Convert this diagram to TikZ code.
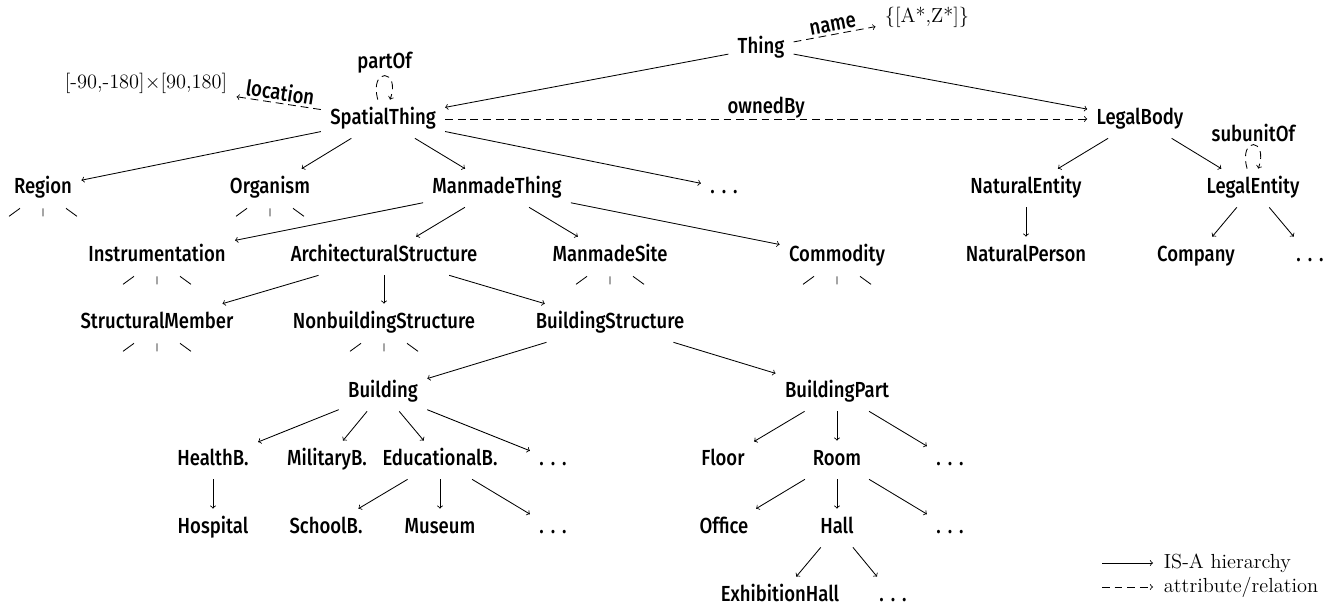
\documentclass[tikz,border=0pt]{standalone}
\usepackage{fontspec}
\newfontfamily\classfont{Fira Sans Medium}[FakeStretch=0.85]
\usepackage{tikz}

% spaced dots for subclasses that are left out
\newcommand{\moredots}{.\kern0.32em.\kern0.32em.}
% three cut-off branches below a class whose subclasses are left out
\newcommand{\leafstubs}[1]{%
  \draw (#1.south) ++(-23,1) -- ++(-11,8)
        (#1.south) ++(0,1) -- ++(0,8)
        (#1.south) ++(23,1) -- ++(11,8);}

\begin{document}
\begin{tikzpicture}[x=0.025cm,y=-0.025cm,semithick,
      cls/.style={font=\classfont\fontsize{15.5}{18}\selectfont,inner xsep=6.4pt,inner ysep=6.7pt,text height=10.5pt,text depth=3pt},
      val/.style={font=\fontsize{14.5}{17}\selectfont,inner xsep=6.4pt,inner ysep=6.7pt,text height=10.5pt,text depth=3pt},
      lbl/.style={font=\classfont\fontsize{15.5}{18}\selectfont,inner sep=1.5pt},
      legend/.style={font=\fontsize{14.5}{17}\selectfont,inner xsep=7.5pt,anchor=west},
      isa/.style={->},
      rel/.style={->,dash pattern=on 5.5pt off 3.5pt}]
      \useasboundingbox (0,0) rectangle (1337,605);
      % top classes
      \node[cls] (thing) at (761,48) {Thing};
      \node[val] (nameval) at (927,17) {\{[A*,Z*]\}};
      \node[cls] (spatial) at (383,119) {SpatialThing};
      \node[val] (latlon) at (146,83) {[-90,-180]$\times$[90,180]};
      \node[cls] (legalbody) at (1140,119) {LegalBody};
      \node[cls] (region) at (43,188) {Region};
      \node[cls] (organism) at (270,188) {Organism};
      \node[cls] (manmade) at (497,188) {ManmadeThing};
      \node[cls] (stdots) at (724,188) {\moredots};
      \node[cls] (natent) at (1026,188) {NaturalEntity};
      \node[cls] (legalent) at (1253,188) {LegalEntity};
      \node[cls] (instr) at (157,256) {Instrumentation};
      \node[cls] (arch) at (384,256) {ArchitecturalStructure};
      \node[cls] (site) at (610,256) {ManmadeSite};
      \node[cls] (commodity) at (837,256) {Commodity};
      \node[cls] (natperson) at (1026,256) {NaturalPerson};
      \node[cls] (company) at (1196,256) {Company};
      \node[cls] (ledots) at (1310,256) {\moredots};
      \node[cls] (structmem) at (157,323) {StructuralMember};
      \node[cls] (nonbuild) at (384,323) {NonbuildingStructure};
      \node[cls] (buildstruct) at (610,323) {BuildingStructure};
      % buildings
      \node[cls] (building) at (383,392) {Building};
      \node[cls] (buildpart) at (837,392) {BuildingPart};
      \node[cls] (health) at (213,460) {HealthB.};
      \node[cls] (military) at (327,460) {MilitaryB.};
      \node[cls] (educ) at (440,460) {EducationalB.};
      \node[cls] (bdots) at (553,460) {\moredots};
      \node[cls] (floor) at (723,460) {Floor};
      \node[cls] (room) at (837,460) {Room};
      \node[cls] (bpdots) at (950,460) {\moredots};
      \node[cls] (hospital) at (213,528) {Hospital};
      \node[cls] (school) at (326,528) {SchoolB.};
      \node[cls] (museum) at (440,528) {Museum};
      \node[cls] (edots) at (553,528) {\moredots};
      \node[cls] (office) at (724,528) {Office};
      \node[cls] (hall) at (837,528) {Hall};
      \node[cls] (rdots) at (950,528) {\moredots};
      \node[cls] (exhall) at (780,596) {ExhibitionHall};
      \node[cls] (hdots) at (893,596) {\moredots};
      % IS-A edges
      \draw[isa] (thing) -- (spatial);
      \draw[isa] (thing) -- (legalbody);
      \draw[isa] (spatial) -- (region);
      \draw[isa] (spatial) -- (organism);
      \draw[isa] (spatial) -- (manmade);
      \draw[isa] (spatial) -- (stdots);
      \draw[isa] (legalbody) -- (natent);
      \draw[isa] (legalbody) -- (legalent);
      \draw[isa] (manmade) -- (instr);
      \draw[isa] (manmade) -- (arch);
      \draw[isa] (manmade) -- (site);
      \draw[isa] (manmade) -- (commodity);
      \draw[isa] (natent) -- (natperson);
      \draw[isa] (legalent) -- (company);
      \draw[isa] (legalent) -- (ledots);
      \draw[isa] (arch) -- (structmem);
      \draw[isa] (arch) -- (nonbuild);
      \draw[isa] (arch) -- (buildstruct);
      \draw[isa] (buildstruct) -- (building);
      \draw[isa] (buildstruct) -- (buildpart);
      \draw[isa] (building) -- (health);
      \draw[isa] (building) -- (military);
      \draw[isa] (building) -- (educ);
      \draw[isa] (building) -- (bdots);
      \draw[isa] (buildpart) -- (floor);
      \draw[isa] (buildpart) -- (room);
      \draw[isa] (buildpart) -- (bpdots);
      \draw[isa] (health) -- (hospital);
      \draw[isa] (educ) -- (school);
      \draw[isa] (educ) -- (museum);
      \draw[isa] (educ) -- (edots);
      \draw[isa] (room) -- (office);
      \draw[isa] (room) -- (hall);
      \draw[isa] (room) -- (rdots);
      \draw[isa] (hall) -- (exhall);
      \draw[isa] (hall) -- (hdots);
      \leafstubs{region}
      \leafstubs{organism}
      \leafstubs{instr}
      \leafstubs{site}
      \leafstubs{commodity}
      \leafstubs{structmem}
      \leafstubs{nonbuild}
      % attributes and relations
      \draw[rel] (thing) -- node[lbl,above,sloped,inner sep=2pt] {name} (nameval);
      \draw[rel] (spatial) -- node[lbl,above,sloped] {location} (latlon);
      \draw[rel] (spatial) -- node[lbl,above,inner sep=0.5pt] {ownedBy} (legalbody);
      \draw[rel] (spatial.105) .. controls +(-9,-33) and +(11,-31) .. (spatial.70) node[lbl,pos=0.5,above] {partOf};
      \draw[rel] (legalent.107) .. controls +(-9,-33) and +(11,-31) .. (legalent.75) node[lbl,pos=0.5,above] {subunitOf};
      % legend
      \node[legend] (lgisa) at (1153,563) {IS-A hierarchy};
      \node[legend] (lgrel) at (1153,587) {attribute/relation};
      \coordinate (lgA) at (1102,563);
      \coordinate (lgB) at (1102,587);
      \draw[isa] (lgA) -- (lgisa);
      \draw[rel] (lgB) -- (lgrel);
    \end{tikzpicture}
\end{document}
